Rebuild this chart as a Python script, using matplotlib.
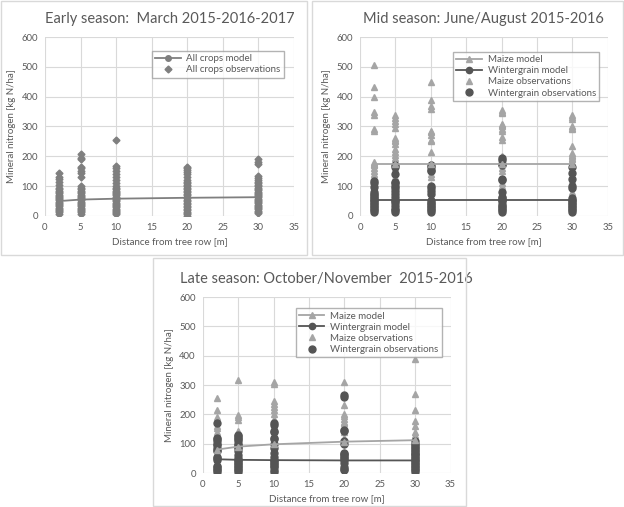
import matplotlib.pyplot as plt
from matplotlib.patches import Rectangle

plt.rcParams['font.family'] = ['Lato', 'DejaVu Sans']

dist = [2, 5, 10, 20, 30]

# early season (March 2015-2016-2017), all crops
early_model = [50, 55, 58, 61, 63]
early_obs = {
    2: [8, 12, 16, 20, 24, 28, 32, 36, 40, 44, 48, 52, 56, 60, 64, 68, 72, 76, 80, 85, 90, 95,
        105, 115, 125, 130, 145],
    5: [8, 12, 16, 20, 24, 28, 32, 36, 40, 44, 48, 52, 56, 60, 64, 68, 72, 76, 80, 85, 90, 95, 100,
        130, 145, 152, 160, 165, 190, 195, 208],
    10: [5, 9, 13, 17, 21, 25, 29, 33, 37, 41, 45, 49, 53, 57, 61, 65, 69, 73, 77, 81, 85, 90, 95, 100,
         110, 120, 130, 140, 150, 160, 168, 255],
    20: [0, 5, 10, 15, 20, 25, 30, 35, 40, 45, 50, 55, 60, 65, 70, 75, 80, 85, 90, 95, 100, 105, 110,
         115, 120, 130, 140, 148, 155, 160, 165],
    30: [10, 14, 18, 22, 26, 30, 34, 38, 42, 46, 50, 54, 58, 62, 66, 70, 74, 78, 82, 86, 90, 95, 100,
         105, 110, 115, 120, 128, 135, 175, 182, 190],
}

# mid season (June/August 2015-2016)
mid_maize_model = [173, 173, 173, 173, 173]
mid_winter_model = [55, 55, 55, 55, 55]
mid_maize_obs = {
    2: [505, 432, 400, 350, 340, 290, 285, 180, 175, 170, 160, 150, 140, 130, 120, 110, 100, 90],
    5: [338, 330, 320, 310, 295, 260, 255, 250, 240, 225, 215, 205, 195, 185, 175, 160, 150, 130],
    10: [448, 390, 368, 360, 285, 280, 270, 255, 250, 215, 175, 160, 140, 130, 100],
    20: [355, 350, 345, 310, 305, 300, 290, 285, 265, 255, 200, 190, 160, 150, 110, 100],
    30: [338, 332, 325, 300, 295, 290, 235, 210, 205, 200, 195, 190, 180, 170, 150, 120, 80],
}
mid_winter_obs = {
    2: [118, 112, 98, 80, 75, 70, 65, 60, 55, 50, 45, 40, 35, 30, 25, 20, 15],
    5: [170, 165, 140, 115, 110, 100, 95, 85, 75, 65, 55, 50, 45, 35, 25, 20, 15],
    10: [170, 165, 155, 150, 100, 95, 85, 75, 50, 45, 40, 35, 30, 25, 20, 15],
    20: [195, 188, 175, 170, 125, 120, 80, 65, 60, 55, 50, 40, 35, 30, 25, 20, 15],
    30: [165, 145, 125, 100, 95, 60, 55, 50, 45, 40, 35, 30, 25, 20, 15],
}

# late season (October/November 2015-2016)
late_maize_model = [80, 90, 98, 107, 112]
late_winter_model = [47, 45, 44, 43, 43]
late_maize_obs = {
    2: [255, 215, 190, 185, 160, 155, 140],
    5: [318, 198, 190, 180, 145, 140, 130],
    10: [312, 305, 245, 235, 225, 215, 200, 185, 160, 150],
    20: [312, 232, 200, 195, 185, 175, 170, 160, 140, 120, 110],
    30: [390, 270, 215, 178, 160, 140, 130, 120],
}
late_winter_obs = {
    2: [170, 118, 115, 110, 100, 95, 85, 80, 75, 55, 50, 45, 25, 20, 15, 10, 5],
    5: [130, 125, 120, 115, 110, 100, 95, 90, 85, 75, 60, 50, 45, 40, 35, 30, 25, 20, 15, 10, 5],
    10: [172, 165, 145, 140, 120, 115, 100, 85, 70, 55, 45, 40, 35, 30, 25, 20, 10, 5],
    20: [265, 260, 148, 145, 110, 100, 70, 65, 60, 55, 50, 45, 35, 20, 15, 10],
    30: [110, 100, 95, 90, 85, 80, 75, 70, 65, 60, 55, 50, 45, 40, 35, 30, 25, 20, 15, 10, 5],
}

txt = '#595959'
grid = '#d9d9d9'
c_all = '#7f7f7f'
c_maize = '#a5a5a5'
c_winter = '#555555'


def flat(d):
    xs, ys = [], []
    for k, v in d.items():
        xs += [k] * len(v)
        ys += v
    return xs, ys


def style(ax, title):
    ax.set_xlim(0, 35)
    ax.set_ylim(0, 600)
    ax.set_xticks(range(0, 36, 5))
    ax.set_yticks(range(0, 601, 100))
    ax.grid(True, color=grid, lw=0.8)
    ax.set_axisbelow(True)
    for s in ax.spines.values():
        s.set_visible(False)
    ax.tick_params(length=0, labelsize=6.8, colors=txt, pad=5)
    ax.set_xlabel('Distance from tree row [m]', fontsize=7, color=txt, labelpad=4)
    ax.set_ylabel('Mineral nitrogen [kg N/ha]', fontsize=7, color=txt, labelpad=4)
    ax.set_title(title, fontsize=10.5, color=txt, pad=10)


fig = plt.figure(figsize=(6.24, 5.07), dpi=100)

# panel frames
for x0, y0, x1, y1 in [(1, 1, 307, 255), (312, 1, 623, 255), (153, 258, 466, 506)]:
    fig.patches.append(Rectangle((x0 / 624, 1 - y1 / 507), (x1 - x0) / 624, (y1 - y0) / 507,
                                 transform=fig.transFigure, fill=False, ec=grid, lw=1))

leg_kw = dict(loc='upper right', fontsize=7, labelcolor=txt, frameon=True, fancybox=False,
              edgecolor='#a0a0a0', borderpad=0.35, labelspacing=0.22, handlelength=2.6,
              handletextpad=0.6)

# early
ax1 = fig.add_axes([0.0721, 0.574, 0.399, 0.353])
style(ax1, 'Early season:  March 2015-2016-2017')
ax1.plot(dist, early_model, color=c_all, lw=1.3, marker='o', ms=4, label='All crops model')
x, y = flat(early_obs)
ax1.plot(x, y, ls='none', marker='D', ms=3.5, color=c_all, label='All crops observations')
ax1.legend(bbox_to_anchor=(0.98, 0.95), **leg_kw)

# mid
ax2 = fig.add_axes([0.577, 0.574, 0.397, 0.353])
style(ax2, 'Mid season: June/August 2015-2016')
x, y = flat(mid_maize_obs)
ax2.plot(x, y, ls='none', marker='^', ms=4.5, color=c_maize, label='Maize observations')
x, y = flat(mid_winter_obs)
ax2.plot(x, y, ls='none', marker='o', ms=5, color=c_winter, label='Wintergrain observations')
ax2.plot(dist, mid_maize_model, color=c_maize, lw=1.3, marker='^', ms=4, label='Maize model')
ax2.plot(dist, mid_winter_model, color=c_winter, lw=1.3, marker='o', ms=4.5, label='Wintergrain model')
h, l = ax2.get_legend_handles_labels()
order = [2, 3, 0, 1]
ax2.legend([h[i] for i in order], [l[i] for i in order], bbox_to_anchor=(0.985, 0.945), **leg_kw)

# late
ax3 = fig.add_axes([0.325, 0.067, 0.397, 0.347])
style(ax3, 'Late season: October/November  2015-2016')
x, y = flat(late_maize_obs)
ax3.plot(x, y, ls='none', marker='^', ms=4.5, color=c_maize, label='Maize observations')
x, y = flat(late_winter_obs)
ax3.plot(x, y, ls='none', marker='o', ms=5, color=c_winter, label='Wintergrain observations')
ax3.plot(dist, late_maize_model, color=c_maize, lw=1.3, marker='^', ms=4, label='Maize model')
ax3.plot(dist, late_winter_model, color=c_winter, lw=1.3, marker='o', ms=4.5, label='Wintergrain model')
h, l = ax3.get_legend_handles_labels()
ax3.legend([h[i] for i in order], [l[i] for i in order], bbox_to_anchor=(0.985, 0.965), **leg_kw)

fig.savefig('out.png', dpi=100, facecolor='white')
